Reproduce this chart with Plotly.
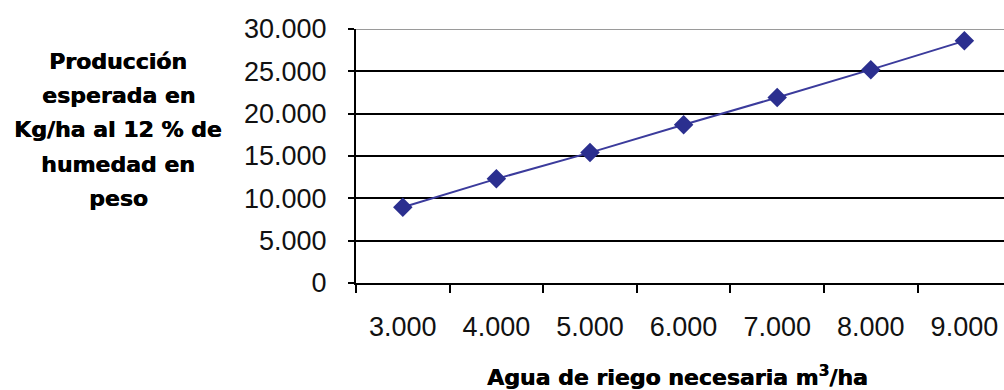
import plotly.graph_objects as go

# Riego necesario (m3/ha) y producción esperada (kg/ha)
categorias = ["3.000", "4.000", "5.000", "6.000", "7.000", "8.000", "9.000"]
produccion = [8950, 12300, 15400, 18700, 21900, 25200, 28600]

y_tickvals = [0, 5000, 10000, 15000, 20000, 25000, 30000]
y_ticktext = ["0", "5.000", "10.000", "15.000", "20.000", "25.000", "30.000"]

titulo_y = ["Producción", "esperada en", "Kg/ha al 12 % de", "humedad en", "peso"]
titulo_x = "Agua de riego necesaria m<sup>3</sup>/ha"

W, H = 1004, 390
L, T, B = 356, 29, 283
unit = 93.6  # px por categoría

fig = go.Figure()
fig.add_trace(go.Scatter(
    x=list(range(len(categorias))),
    y=produccion,
    mode="lines+markers",
    line=dict(color="#3b3b9c", width=2),
    marker=dict(symbol="diamond", size=15, color="#2b2f8f"),
    showlegend=False,
    hoverinfo="skip",
))

tick_font = dict(family="Liberation Sans, Arial, sans-serif", size=27, color="#111111")
title_font = dict(family="DejaVu Sans, sans-serif", size=22, color="#000000",
                  shadow="0.6px 0 0 #000000")

xmax = -0.5 + (W - L) / unit
fig.update_xaxes(
    range=[-0.5, xmax],
    tickmode="array",
    tickvals=list(range(len(categorias))),
    ticktext=categorias,
    showgrid=False,
    zeroline=False,
    showline=True, linecolor="#000000", linewidth=2,
    ticks="", tickfont=tick_font,
    ticklabelstandoff=19,
    minor=dict(tickmode="array", tickvals=[i - 0.5 for i in range(len(categorias) + 1)],
               ticks="outside", ticklen=8, tickwidth=2, tickcolor="#000000", showgrid=False),
)
fig.update_yaxes(
    range=[0, 30000],
    tickmode="array", tickvals=y_tickvals, ticktext=y_ticktext,
    showgrid=True, gridcolor="#000000", gridwidth=2,
    zeroline=False,
    showline=True, linecolor="#000000", linewidth=2,
    ticks="outside", ticklen=6, tickwidth=2, tickcolor="#000000",
    tickfont=tick_font, ticklabelstandoff=16,
)

shapes = [
    # borde superior del área de trazado
    dict(type="line", xref="paper", yref="y", x0=0, x1=1, y0=30000, y1=30000,
         line=dict(color="#9a9a9a", width=2), layer="above"),
]

annotations = []
baselines = [69.3, 103.6, 137.9, 172.2, 206.5]
for txt, bl in zip(titulo_y, baselines):
    annotations.append(dict(
        text="<b>" + txt + "</b>", xref="paper", yref="paper",
        x=(118 - L) / (W - L), y=1 - (bl - 8 - T) / (B - T),
        xanchor="center", yanchor="middle", showarrow=False, font=title_font,
    ))
annotations.append(dict(
    text="<b>" + titulo_x + "</b>", xref="paper", yref="paper",
    x=(677 - L) / (W - L), y=-(376 - B) / (B - T),
    xanchor="center", yanchor="middle", showarrow=False, font=title_font,
))

fig.update_layout(
    width=W, height=H,
    margin=dict(l=L, r=0, t=T, b=H - B, pad=0),
    paper_bgcolor="#ffffff", plot_bgcolor="#ffffff",
    shapes=shapes, annotations=annotations,
)

fig.write_html("out.html", config={"displayModeBar": False})
